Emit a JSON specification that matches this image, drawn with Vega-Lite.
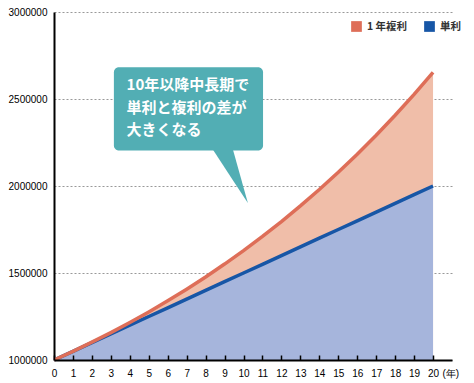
{
  "$schema": "https://vega.github.io/schema/vega-lite/v6.json",
  "width": 398,
  "height": 348,
  "autosize": {"type": "none"},
  "padding": {"left": 54, "top": 12, "right": 22, "bottom": 23},
  "background": "white",
  "config": {
    "view": {"stroke": null},
    "font": "Liberation Sans"
  },
  "datasets": {
    "growth": [
      {"year": 0, "type": "1 年複利", "value": 1000000},
      {"year": 1, "type": "1 年複利", "value": 1050000},
      {"year": 2, "type": "1 年複利", "value": 1102500},
      {"year": 3, "type": "1 年複利", "value": 1157625},
      {"year": 4, "type": "1 年複利", "value": 1215506},
      {"year": 5, "type": "1 年複利", "value": 1276282},
      {"year": 6, "type": "1 年複利", "value": 1340096},
      {"year": 7, "type": "1 年複利", "value": 1407100},
      {"year": 8, "type": "1 年複利", "value": 1477455},
      {"year": 9, "type": "1 年複利", "value": 1551328},
      {"year": 10, "type": "1 年複利", "value": 1628895},
      {"year": 11, "type": "1 年複利", "value": 1710339},
      {"year": 12, "type": "1 年複利", "value": 1795856},
      {"year": 13, "type": "1 年複利", "value": 1885649},
      {"year": 14, "type": "1 年複利", "value": 1979932},
      {"year": 15, "type": "1 年複利", "value": 2078928},
      {"year": 16, "type": "1 年複利", "value": 2182875},
      {"year": 17, "type": "1 年複利", "value": 2292018},
      {"year": 18, "type": "1 年複利", "value": 2406619},
      {"year": 19, "type": "1 年複利", "value": 2526950},
      {"year": 20, "type": "1 年複利", "value": 2653298},
      {"year": 0, "type": "単利", "value": 1000000},
      {"year": 1, "type": "単利", "value": 1050000},
      {"year": 2, "type": "単利", "value": 1100000},
      {"year": 3, "type": "単利", "value": 1150000},
      {"year": 4, "type": "単利", "value": 1200000},
      {"year": 5, "type": "単利", "value": 1250000},
      {"year": 6, "type": "単利", "value": 1300000},
      {"year": 7, "type": "単利", "value": 1350000},
      {"year": 8, "type": "単利", "value": 1400000},
      {"year": 9, "type": "単利", "value": 1450000},
      {"year": 10, "type": "単利", "value": 1500000},
      {"year": 11, "type": "単利", "value": 1550000},
      {"year": 12, "type": "単利", "value": 1600000},
      {"year": 13, "type": "単利", "value": 1650000},
      {"year": 14, "type": "単利", "value": 1700000},
      {"year": 15, "type": "単利", "value": 1750000},
      {"year": 16, "type": "単利", "value": 1800000},
      {"year": 17, "type": "単利", "value": 1850000},
      {"year": 18, "type": "単利", "value": 1900000},
      {"year": 19, "type": "単利", "value": 1950000},
      {"year": 20, "type": "単利", "value": 2000000}
    ]
  },
  "data": {"name": "growth"},
  "encoding": {
    "x": {
      "field": "year", "type": "quantitative",
      "scale": {"domain": [0, 21], "nice": false, "zero": false},
      "axis": {
        "values": [0,1,2,3,4,5,6,7,8,9,10,11,12,13,14,15,16,17,18,19,20],
        "labelOverlap": false,
        "grid": false,
        "tickSize": -5,
        "tickColor": "black",
        "tickWidth": 1.5,
        "domainColor": "black",
        "domainWidth": 2,
        "labelFontSize": 10,
        "labelColor": "black",
        "labelPadding": 13,
        "labelFlush": false,
        "zindex": 1,
        "title": "(年)",
        "titleFontSize": 10,
        "titleFontWeight": "normal",
        "titleColor": "black",
        "titleAnchor": "start",
        "titleAlign": "left",
        "titleBaseline": "middle",
        "titleX": 388,
        "titleY": 13
      }
    },
    "y": {
      "field": "value", "type": "quantitative",
      "scale": {"domain": [1000000, 3000000], "nice": false, "zero": false},
      "axis": {
        "values": [1000000, 1500000, 2000000, 2500000, 3000000],
        "format": "d",
        "title": null,
        "grid": true,
        "gridDash": [2, 2],
        "gridColor": "#999999",
        "gridWidth": 1,
        "ticks": false,
        "domainColor": "black",
        "domainWidth": 2,
        "labelFontSize": 10,
        "labelColor": "black",
        "labelPadding": 7
      }
    }
  },
  "layer": [
    {
      "transform": [{"filter": "datum.type === '1 年複利'"}],
      "mark": {"type": "area", "color": "#f0bea9"},
      "encoding": {"y2": {"datum": 1000000}}
    },
    {
      "transform": [{"filter": "datum.type === '単利'"}],
      "mark": {"type": "area", "color": "#a6b5dc"},
      "encoding": {"y2": {"datum": 1000000}}
    },
    {
      "transform": [{"filter": "datum.type === '単利'"}],
      "mark": {"type": "line", "strokeWidth": 3.5},
      "encoding": {
        "color": {
          "field": "type", "type": "nominal",
          "scale": {"domain": ["1 年複利", "単利"], "range": ["#de6e58", "#1756a6"]},
          "legend": {
            "orient": "none",
            "legendX": 297,
            "legendY": 9,
            "direction": "horizontal",
            "title": null,
            "symbolType": "square",
            "symbolSize": 115,
            "symbolStrokeWidth": 0,
            "labelFontSize": 10.5,
            "labelFontWeight": "bold",
            "labelColor": "#333333",
            "labelFont": "Noto Sans CJK JP",
            "labelOffset": 5,
            "columnPadding": 16,
            "padding": 0,
            "encode": {"symbols": {"update": {"fill": {"scale": "color", "field": "value"}, "opacity": {"value": 1}}}}
          }
        }
      }
    },
    {
      "transform": [{"filter": "datum.type === '1 年複利'"}],
      "mark": {"type": "line", "strokeWidth": 3.5},
      "encoding": {"color": {"field": "type", "type": "nominal"}}
    },
    {
      "data": {"values": [{"year": 3.16, "year2": 11.03, "value": 2682000, "value2": 2204000}]},
      "mark": {"type": "rect", "color": "#52aeb4", "cornerRadius": 5},
      "encoding": {
        "x2": {"field": "year2"},
        "y2": {"field": "value2"}
      }
    },
    {
      "data": {"values": [
        {"year": 8.38, "value": 2210000, "value2": 2210000},
        {"year": 9.44, "value": 2210000, "value2": 2033000},
        {"year": 10.23, "value": 1902000, "value2": 1902000}
      ]},
      "mark": {"type": "area", "color": "#52aeb4", "orient": "vertical"},
      "encoding": {"y2": {"field": "value2"}}
    },
    {
      "data": {"values": [{"year": 3.83, "value": 2618000}]},
      "mark": {
        "type": "text",
        "text": ["10年以降中長期で", "単利と複利の差が", "大きくなる"],
        "font": "Noto Sans CJK JP",
        "fontWeight": "bold",
        "fontSize": 15,
        "lineHeight": 22.5,
        "color": "white",
        "align": "left",
        "baseline": "top"
      }
    }
  ]
}
